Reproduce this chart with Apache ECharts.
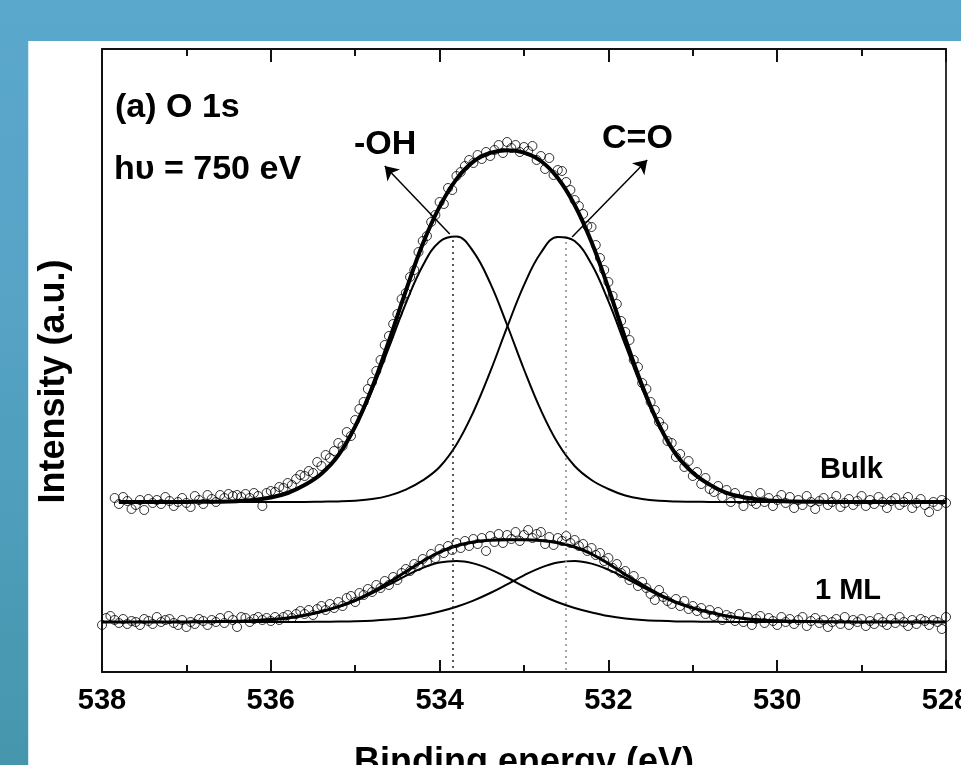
<!DOCTYPE html>
<html>
<head>
<meta charset="utf-8">
<title>O 1s</title>
<script src="https://cdn.jsdelivr.net/npm/echarts@6.0.0/dist/echarts.min.js"></script>
<style>
    html, body { margin: 0; padding: 0; width: 961px; height: 765px; overflow: hidden; }
    body { position: relative; background: linear-gradient(to bottom, #5ba8cd 0%, #56a3c6 40%, #4596ad 100%); }
    #panel { position: absolute; left: 28px; top: 41px; right: 0; bottom: 0; background: #fff; border-left: 1px solid #d2ebf3; }
    #chart { position: absolute; left: 0; top: 0; width: 961px; height: 765px; }
</style>
</head>
<body>
<div id="panel"></div>
<div id="chart"></div>
<script>
// measured points, binding energy in eV (0.05 eV apart)
const dataE = [
    538,537.95,537.9,537.85,537.8,537.75,537.7,537.65,537.6,537.55,537.5,537.45,537.4,537.35,537.3,537.25,537.2,537.15,537.1,537.05,
    537,536.95,536.9,536.85,536.8,536.75,536.7,536.65,536.6,536.55,536.5,536.45,536.4,536.35,536.3,536.25,536.2,536.15,536.1,536.05,
    536,535.95,535.9,535.85,535.8,535.75,535.7,535.65,535.6,535.55,535.5,535.45,535.4,535.35,535.3,535.25,535.2,535.15,535.1,535.05,
    535,534.95,534.9,534.85,534.8,534.75,534.7,534.65,534.6,534.55,534.5,534.45,534.4,534.35,534.3,534.25,534.2,534.15,534.1,534.05,
    534,533.95,533.9,533.85,533.8,533.75,533.7,533.65,533.6,533.55,533.5,533.45,533.4,533.35,533.3,533.25,533.2,533.15,533.1,533.05,
    533,532.95,532.9,532.85,532.8,532.75,532.7,532.65,532.6,532.55,532.5,532.45,532.4,532.35,532.3,532.25,532.2,532.15,532.1,532.05,
    532,531.95,531.9,531.85,531.8,531.75,531.7,531.65,531.6,531.55,531.5,531.45,531.4,531.35,531.3,531.25,531.2,531.15,531.1,531.05,
    531,530.95,530.9,530.85,530.8,530.75,530.7,530.65,530.6,530.55,530.5,530.45,530.4,530.35,530.3,530.25,530.2,530.15,530.1,530.05,
    530,529.95,529.9,529.85,529.8,529.75,529.7,529.65,529.6,529.55,529.5,529.45,529.4,529.35,529.3,529.25,529.2,529.15,529.1,529.05,
    529,528.95,528.9,528.85,528.8,528.75,528.7,528.65,528.6,528.55,528.5,528.45,528.4,528.35,528.3,528.25,528.2,528.15,528.1,528.05,
    528
];

const bulkPts = [
    null,null,null,174,168,175,171,163,167,172,162,173,169,172,168,175,171,166,170,174,
    169,165,176,172,168,177,173,170,177,174,178,176,177,175,178,174,179,176,166,179,
    181,180,185,184,189,187,193,197,196,201,199,210,206,217,214,221,229,226,240,236,
    252,263,270,283,290,301,312,327,336,348,358,373,379,395,402,420,431,436,450,457,
    470,468,484,482,496,500,506,512,509,517,513,520,516,522,527,519,530,524,527,520,
    525,521,526,512,516,503,514,497,502,501,490,482,472,466,458,446,445,427,414,402,
    390,376,368,351,340,332,312,305,289,283,270,262,250,245,231,229,215,218,205,211,
    196,200,188,194,183,180,186,175,182,170,179,173,166,176,171,168,179,170,174,166,
    172,177,169,175,164,172,167,176,170,163,171,174,167,170,176,165,169,173,167,171,
    176,166,172,168,175,170,164,171,174,167,170,175,164,169,173,167,160,170,166,172,
    169
];

const mlPts = [
    47,54,56,52,49,53,48,51,50,47,53,51,48,55,50,52,53,49,47,52,
    45,50,48,53,51,47,52,50,54,49,56,52,45,55,54,50,53,55,52,54,
    51,55,52,55,57,54,58,61,58,62,57,63,66,62,68,64,70,66,74,76,
    70,79,77,83,80,87,84,91,87,95,92,99,103,101,108,106,113,110,118,114,
    123,119,126,122,129,124,131,126,133,128,134,121,136,130,138,129,137,133,140,131,
    137,142,134,138,140,128,135,127,134,131,136,129,132,126,128,121,124,117,119,111,
    114,104,108,99,101,92,96,86,90,84,78,72,82,75,71,68,73,66,71,63,
    66,61,64,58,62,56,60,52,57,55,51,58,50,55,47,53,56,49,54,51,
    47,55,50,53,48,52,55,46,51,54,49,52,45,50,53,48,55,47,52,50,
    53,46,51,48,54,50,47,53,49,55,50,46,52,48,53,51,47,52,50,43,
    55
];

// fitted curves, 0.2 eV apart
const fitE = [538,537.8,537.6,537.4,537.2,537,536.8,536.6,536.4,536.2,536,535.8,535.6,535.4,535.2,535,534.8,534.6,534.4,534.2,
    534,533.8,533.6,533.4,533.2,533,532.8,532.6,532.4,532.2,532,531.8,531.6,531.4,531.2,531,530.8,530.6,530.4,530.2,
    530,529.8,529.6,529.4,529.2,529,528.8,528.6,528.4,528.2,528];

const bulkEnv = [null,170,170,170,170,170.1,170.2,170.3,170.8,172,174.5,179,187,198.3,216.6,245.6,284.3,331,381.1,427.9,
    465.3,492.9,510.4,519.1,521.8,519.4,511,494,467,429.9,383.8,333.4,286.4,247.1,217.6,199.3,187.4,179.1,174.7,172.2,
    170.9,170.4,170.2,170.1,170,170,170,170,170,170,170];
const bulkOH = [null,170,170,170,170,170.1,170.2,170.3,170.8,172,174.5,179,187,198,216,244.3,281.4,324.6,368.7,406.3,
    430.3,435.4,420.4,388.8,347,302.5,261.8,228.9,206,192,183,176.5,173,171.2,170.5,170.3,170.1,170,170,170,
    170,170,170,170,170,170,170,170,170,170,170];
const bulkCO = [null,170,170,170,170,170,170,170,170,170,170,170,170,170.3,170.6,171.3,172.9,176.4,182.4,191.6,
    205,227.5,260,300.3,344.8,386.9,419.2,435.1,431,407.9,370.8,326.9,283.4,245.9,217.1,199,187.3,179.1,174.7,172.2,
    170.9,170.4,170.2,170.1,170,170,170,170,170,170,170];

const mlEnv = [50,50,50,50,50,50.1,50.2,50.4,50.7,51.3,52.4,54,56.7,60.5,65.4,71.7,79.9,89.7,100.3,110.8,
    119.9,126.3,130,131.7,132.2,132.2,131.4,129.2,125,118,108.3,97.6,87.1,77.7,69.9,64.1,59.7,56.1,53.6,52.1,
    51.2,50.6,50.4,50.2,50.1,50,50,50,50,50,50];
const mlOH = [50,50,50,50,50,50.1,50.2,50.4,50.7,51.3,52.4,54,56.6,60.3,65,71,78.6,87.3,96.2,104.1,
    109.4,111,108.6,102.7,94.5,85.5,77,69.7,64,59.6,56,53.6,52.1,51.2,50.6,50.4,50.2,50.1,50,50,
    50,50,50,50,50,50,50,50,50,50,50];
const mlCO = [50,50,50,50,50,50,50,50,50,50,50,50,50.1,50.2,50.4,50.7,51.3,52.4,54.1,56.7,
    60.5,65.3,71.4,79,87.7,96.7,104.4,109.5,111,108.4,102.3,94,85,76.5,69.3,63.7,59.5,56,53.6,52.1,
    51.2,50.6,50.4,50.2,50.1,50,50,50,50,50,50];

// axis range and marker positions
const eRange = [528, 538];
const eStep = 2;
const intensityMax = 623;
const peakOH = 533.84;
const peakCO = 532.5;

const font = 'Liberation Sans, Arial, Helvetica, sans-serif';

function pairs(xs, ys) {
    return xs.map((x, i) => [x, ys[i]]).filter(p => p[1] !== null);
}

function points(name, ys) {
    return {
        name: name,
        type: 'scatter',
        data: pairs(dataE, ys),
        symbol: 'circle',
        symbolSize: 9,
        itemStyle: { color: 'rgba(255,255,255,0)', borderColor: '#000', borderWidth: 1 },
        z: 2
    };
}

function fitLine(name, ys, width) {
    return {
        name: name,
        type: 'line',
        data: pairs(fitE, ys),
        smooth: 0.4,
        symbol: 'none',
        lineStyle: { color: '#000', width: width },
        z: 3
    };
}

function label(text, x, y, size) {
    return {
        type: 'text',
        x: x,
        y: y,
        style: { text: text, fontSize: size, fontWeight: 'bold', fontFamily: font, fill: '#000', verticalAlign: 'middle' }
    };
}

function xAxisOf(position, showLabels) {
    return {
        type: 'value',
        position: position,
        min: eRange[0],
        max: eRange[1],
        interval: eStep,
        inverse: true,
        axisLine: { show: true, onZero: false, lineStyle: { color: '#111', width: 2 } },
        axisTick: { show: true, inside: true, length: 12, lineStyle: { color: '#111', width: 2 } },
        minorTick: { show: true, splitNumber: 2, length: 7, lineStyle: { color: '#111', width: 2 } },
        axisLabel: { show: showLabels, fontSize: 29, fontWeight: 'bold', fontFamily: font, color: '#000', margin: 14 },
        splitLine: { show: false },
        minorSplitLine: { show: false }
    };
}

let chart = echarts.init(document.getElementById('chart'), null, { renderer: 'canvas' });

let bottomAxis = xAxisOf('bottom', true);
bottomAxis.name = 'Binding energy (eV)';
bottomAxis.nameLocation = 'middle';
bottomAxis.nameGap = 73;
bottomAxis.nameMoveOverlap = false;
bottomAxis.nameTextStyle = { fontSize: 36, fontWeight: 'bold', fontFamily: font, color: '#000' };

let topAxis = xAxisOf('top', false);
topAxis.axisTick.length = 13;

let envBulk = fitLine('Bulk fit', bulkEnv, 4);
envBulk.markLine = {
    silent: true,
    symbol: ['none', 'none'],
    label: { show: false },
    data: [
        [{ coord: [peakOH, 432], lineStyle: { type: [2, 4], width: 1.5, color: '#222' } }, { coord: [peakOH, 0] }],
        [{ coord: [peakCO, 430], lineStyle: { type: [2, 4], width: 1.5, color: '#888' } }, { coord: [peakCO, 0] }],
        [{ coord: [533.88, 438], lineStyle: { type: 'solid', width: 1.5, color: '#000' } },
         { coord: [534.65, 506], symbol: 'arrow', symbolSize: 13 }],
        [{ coord: [532.43, 435], lineStyle: { type: 'solid', width: 1.5, color: '#000' } },
         { coord: [531.54, 512], symbol: 'arrow', symbolSize: 13 }]
    ]
};

let option = {
    animation: false,
    backgroundColor: 'transparent',
    grid: { left: 102, right: 15, top: 49, bottom: 93, containLabel: false, outerBoundsMode: 'none' },
    xAxis: [bottomAxis, topAxis],
    yAxis: [
        {
            type: 'value',
            position: 'left',
            min: 0,
            max: intensityMax,
            axisLine: { show: true, lineStyle: { color: '#111', width: 2 } },
            axisTick: { show: false },
            axisLabel: { show: false },
            splitLine: { show: false },
            name: 'Intensity (a.u.)',
            nameLocation: 'middle',
            nameGap: 30,
            nameMoveOverlap: false,
            nameTextStyle: { fontSize: 36, fontWeight: 'bold', fontFamily: font, color: '#000', padding: [0, 42, 0, 0] }
        },
        {
            type: 'value',
            position: 'right',
            min: 0,
            max: intensityMax,
            axisLine: { show: true, lineStyle: { color: '#333', width: 2 } },
            axisTick: { show: false },
            axisLabel: { show: false },
            splitLine: { show: false }
        }
    ],
    graphic: [
        label('(a) O 1s', 115, 108, 34),
        label('h\u03c5 = 750 eV', 114, 170, 34),
        label('-OH', 354, 145, 34),
        label('C=O', 602, 139, 34),
        label('Bulk', 820, 470, 29),
        label('1 ML', 815, 591, 29)
    ],
    series: [
        points('Bulk', bulkPts),
        points('1 ML', mlPts),
        envBulk,
        fitLine('Bulk -OH', bulkOH, 2),
        fitLine('Bulk C=O', bulkCO, 2),
        fitLine('1 ML fit', mlEnv, 3),
        fitLine('1 ML -OH', mlOH, 2),
        fitLine('1 ML C=O', mlCO, 2)
    ]
};

chart.setOption(option);
</script>
</body>
</html>
